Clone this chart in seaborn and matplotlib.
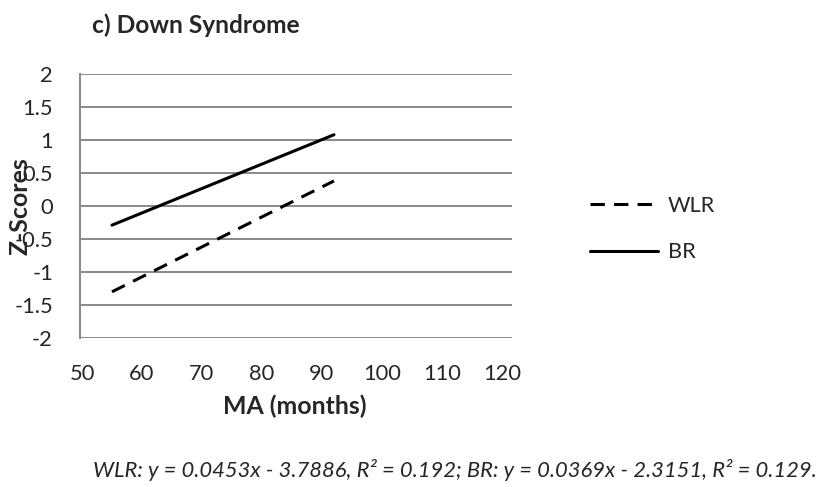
import pandas as pd
import numpy as np
import matplotlib.pyplot as plt
import seaborn as sns

# regression lines (endpoints at MA 55 and 92)
ma_months = [55, 92]
wlr_z = [-1.30, 0.38]
br_z = [-0.29, 1.08]
groups = ["WLR", "BR"]
x_ticks = [50, 60, 70, 80, 90, 100, 110, 120]
y_ticks = [-2, -1.5, -1, -0.5, 0, 0.5, 1, 1.5, 2]
y_labels = ["-2", "-1.5", "-1", "-0.5", "0", "0.5", "1", "1.5", "2"]
title = "c) Down Syndrome"
note = "WLR: y = 0.0453x - 3.7886, R² = 0.192; BR: y = 0.0369x - 2.3151, R² = 0.129."

df = pd.DataFrame({
    "MA": ma_months + ma_months,
    "Z": wlr_z + br_z,
    "group": ["WLR"] * len(ma_months) + ["BR"] * len(ma_months),
})

sns.set_style("white")
plt.rcParams['font.family'] = ['Lato', 'DejaVu Sans']

W, H = 818, 487
fig = plt.figure(figsize=(W / 100, H / 100), dpi=100)
renderer = fig.canvas.get_renderer()


def fit_size(text, width_px, **kw):
    # font size that makes the text about width_px wide
    t = fig.text(0, 0, text, fontsize=10, **kw)
    w = t.get_window_extent(renderer).width
    t.remove()
    return 10 * width_px / w


tick_fs = fit_size("100", 38)
label_fs = fit_size("MA (months)", 144, fontweight="bold")
title_fs = fit_size(title, 208, fontweight="bold")
leg_fs = fit_size("WLR", 47)
note_fs = fit_size(note, 722, style="italic")

# plot area: x 80..512 px, y 74..338 px
ax = fig.add_axes([80 / W, 1 - 338 / H, 432 / W, 264 / H])

dash = (4.7, 3)
sns.lineplot(data=df, x="MA", y="Z", style="group", style_order=groups,
             dashes={"WLR": dash, "BR": ""}, color="black", linewidth=2.2,
             ax=ax, legend=False)

ax.set_xlim(50 - 2 / 6, 120 + 10 / 6)
ax.set_ylim(-2, 2)
ax.set_xticks(x_ticks)
ax.set_yticks(y_ticks)
ax.set_yticklabels(y_labels)
ax.yaxis.grid(True, color="#898989", linewidth=1.4)
ax.set_axisbelow(True)
for s in ["top", "right", "bottom"]:
    ax.spines[s].set_visible(False)
ax.spines["left"].set_color("#898989")
ax.spines["left"].set_linewidth(1.4)
ax.tick_params(axis="y", length=8, color="#898989", width=1.4, labelsize=tick_fs, pad=11.5)
ax.tick_params(axis="x", length=0, labelsize=tick_fs, pad=19)

ax.set_xlabel("MA (months)", fontsize=label_fs, fontweight="bold")
ax.set_ylabel("Z-Scores", fontsize=label_fs, fontweight="bold")
ax.xaxis.set_label_coords(0.498, (338 - 406) / 264)
ax.xaxis.label.set_va("center")
ax.yaxis.set_label_coords((20 - 80) / 432, 0.5)
ax.yaxis.label.set_va("center")

fig.text(92 / W, 1 - 25 / H, title, fontsize=title_fs, fontweight="bold", va="center")

leg_px = leg_fs * 100 / 72
handles = [plt.Line2D([], [], color="black", linewidth=2.2, dashes=dash),
           plt.Line2D([], [], color="black", linewidth=2.2)]
fig.legend(handles, groups, loc="center left", bbox_to_anchor=(590 / W, 1 - 229 / H),
           frameon=False, fontsize=leg_fs, borderpad=0, borderaxespad=0,
           handlelength=68 / leg_px, handletextpad=10 / leg_px,
           labelspacing=(48 - leg_px) / leg_px)

fig.text(93 / W, 1 - 470 / H, note, fontsize=note_fs, style="italic", va="center")

fig.savefig("out.png", dpi=100)
